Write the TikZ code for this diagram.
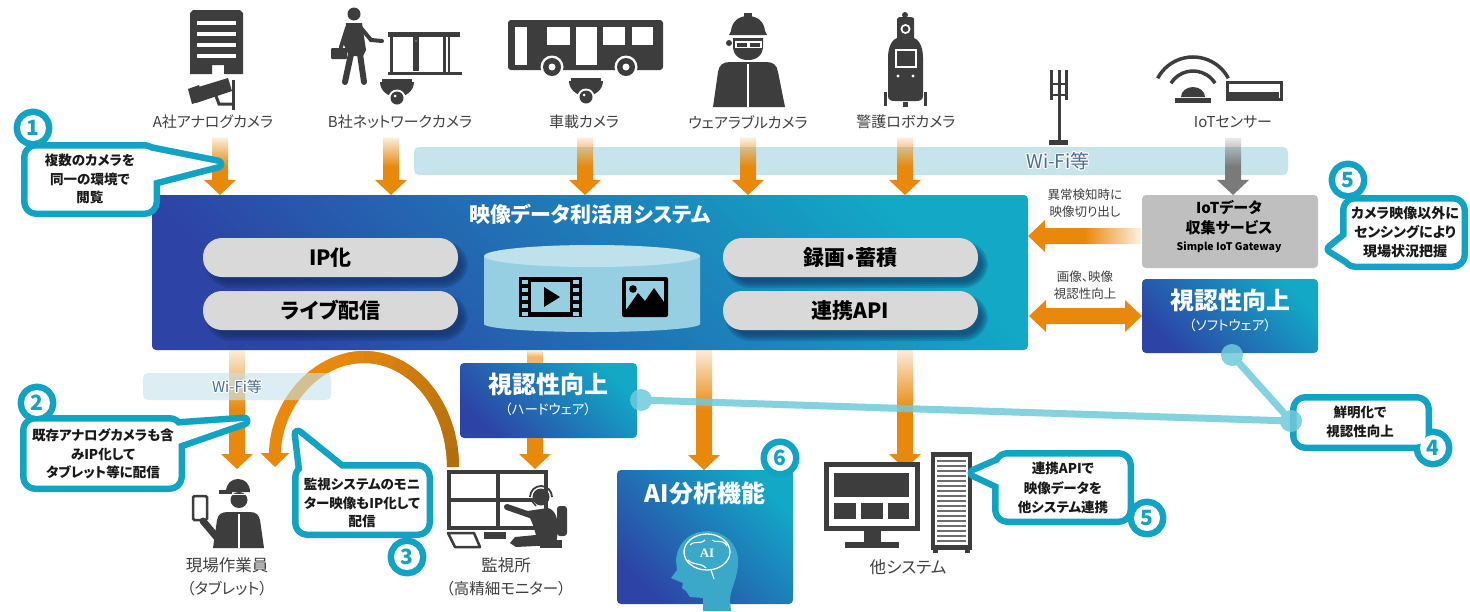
\documentclass[tikz,border=0pt]{standalone}
\usepackage{fontspec}
\setmainfont{Noto Sans CJK JP}[RawFeature=+palt]
\newfontfamily\aifont{Liberation Serif}
\usetikzlibrary{calc,arrows.meta,fadings}

\definecolor{tealc}{HTML}{10A3C4}
\definecolor{orgc}{HTML}{E8890C}
\definecolor{orgdk}{HTML}{B36E0C}
\definecolor{iconc}{HTML}{3D3D3D}
\definecolor{lblc}{HTML}{404040}
\definecolor{wific}{HTML}{C6E4EC}
\definecolor{wifitc}{HTML}{4A6F96}
\definecolor{pillc}{HTML}{D9D9D9}
\definecolor{blueA}{HTML}{12A8C6}
\definecolor{blueB}{HTML}{2D44A6}
\definecolor{cylc}{HTML}{95CFE1}
\definecolor{cyltopc}{HTML}{BEE1EB}
\definecolor{grayboxc}{HTML}{BFBFBF}
\definecolor{linkc}{HTML}{6FCADA}
\definecolor{grayarr}{HTML}{7A7A7A}
\definecolor{headc}{HTML}{3BA7C9}
\definecolor{shadowc}{HTML}{0E2A5A}

\tikzfading[name=fadetop, top color=transparent!85, bottom color=transparent!0, middle color=transparent!0]
\tikzfading[name=faderight, left color=transparent!0, right color=transparent!90, middle color=transparent!0]

\tikzset{
  toplabel/.style={text=lblc, font=\fontsize{15}{18}\selectfont},
  botlabel/.style={text=lblc, font=\fontsize{16.5}{23}\selectfont, align=center},
  smalltxt/.style={text=lblc, font=\fontsize{12.5}{17}\selectfont, align=center},
  pillbox/.style={fill=pillc, rounded corners=19pt, minimum width=255pt, minimum height=39pt,
    font=\bfseries\fontsize{21}{24}\selectfont},
  bluebox/.style={shade, top color=blueA, bottom color=blueB, shading angle=-45,
    rounded corners=4pt, anchor=north west},
  calltext/.style={font=\bfseries\fontsize{13.5}{18.5}\selectfont, align=center, text=black!90},
  badgenum/.style={text=tealc, font=\bfseries\fontsize{21}{21}\selectfont},
  bubbleline/.style={draw=tealc, line width=13pt, line join=round},
  wifibar/.style={fill=wific, rounded corners=5pt},
  wifitext/.style={text=wifitc, font=\fontsize{19}{19}\selectfont},
  orgdown/.style={fill=orgc, path fading=fadetop},
  orgleft/.style={fill=orgc, path fading=faderight},
  graydown/.style={fill=grayarr, path fading=fadetop},
  boxhead/.style={text=white, font=\bfseries\fontsize{24}{26}\selectfont},
  boxsub/.style={text=white, font=\fontsize{13.5}{16}\selectfont},
}

% vertical block arrow from #2 down to the height of #3
\newcommand\dnarrow[3][orgdown]{%
  \fill[#1] let \p1=(#2), \p2=(#3) in
    (\x1-8pt,\y1) -- (\x1+8pt,\y1) -- (\x1+8pt,\y2+15pt) -- (\x1+16pt,\y2+15pt)
    -- (\x1,\y2) -- (\x1-16pt,\y2+15pt) -- (\x1-8pt,\y2+15pt) -- cycle;}
% horizontal block arrow from #2 leftwards to #3
\newcommand\lfarrow[3][orgleft]{%
  \fill[#1] let \p1=(#2), \p2=(#3) in
    (\x1,\y1+8pt) -- (\x2+17pt,\y1+8pt) -- (\x2+17pt,\y1+16pt) -- (\x2,\y1)
    -- (\x2+17pt,\y1-16pt) -- (\x2+17pt,\y1-8pt) -- (\x1,\y1-8pt) -- cycle;}
% two-headed horizontal block arrow
\newcommand\dbarrow[2]{%
  \fill[orgc] let \p1=(#1), \p2=(#2) in
    (\x1,\y1) -- (\x1+17pt,\y1+16pt) -- (\x1+17pt,\y1+8pt) -- (\x2-17pt,\y1+8pt)
    -- (\x2-17pt,\y1+16pt) -- (\x2,\y1) -- (\x2-17pt,\y1-16pt) -- (\x2-17pt,\y1-8pt)
    -- (\x1+17pt,\y1-8pt) -- (\x1+17pt,\y1-16pt) -- cycle;}
% speech bubble: #1 body rectangle, #2 pointer, #3 badge centre
\newcommand\callout[3]{%
  \draw[bubbleline, rounded corners=9pt] #1;
  \draw[bubbleline] #2;
  \draw[bubbleline] (#3) circle[radius=13pt];
  \fill[white, rounded corners=9pt] #1;
  \fill[white] #2;
  \fill[white] (#3) circle[radius=13pt];}
% dome camera hanging below a point
\newcommand\dome[2]{%
  \fill[iconc] (#1-15,#2) rectangle (#1+15,#2+4);
  \fill[iconc] (#1-17,#2+3) arc[start angle=180, end angle=0, x radius=17, y radius=15] -- cycle;
  \fill[white] (#1,#2+19) circle[radius=8.5pt];
  \fill[iconc] (#1,#2+19) circle[radius=6.5pt];
  \fill[white] (#1-2,#2+17) circle[radius=1.5pt];}
% network label with a soft white halo
\newcommand\halotext[4]{%
  \foreach \dx/\dy in {-1.2/0,1.2/0,0/-1.2,0/1.2,-0.9/-0.9,0.9/0.9,-0.9/0.9,0.9/-0.9}
    \node[text=white, font=\fontsize{#3}{#3}\selectfont] at ($(#1)+(\dx,\dy)$) {#4};
  \node[wifitext, font=\fontsize{#3}{#3}\selectfont] (#2) at (#1) {#4};}
% soft shadow under a pill centred at (#1,#2)
\newcommand\pillshadow[2]{%
  \foreach \s in {0,2,4,6}
    \fill[shadowc, opacity=0.2, rounded corners=19pt+\s pt]
      (#1-127.5+6-\s+2,#2-19.5+7-\s+2) rectangle (#1+127.5+6+\s-2,#2+19.5+7+\s-2);}

\begin{document}
\begin{tikzpicture}[x=1pt, y=-1pt, every node/.style={inner sep=0pt, outer sep=0pt}]
\useasboundingbox (0,0) rectangle (1470,611);
\fill[white] (0,0) rectangle (1470,611);

% ---------- source devices ----------
% office building with analog camera
\fill[iconc] (190,13) -- (193,10) -- (240,10) -- (243,13) -- (243,74) -- (224,74)
  -- (224,65) -- (212,65) -- (212,74) -- (190,74) -- cycle;
\foreach \y in {21,32,43,54} \fill[white] (197,\y) rectangle (236,\y+3.5);
\fill[iconc] (192,89) -- (228,78) -- (232,91) -- (196,103) -- cycle;
\fill[iconc] (188,89) -- (199,85) -- (204,100) -- (192,104) -- cycle;
\draw[iconc, line width=3pt] (216,96) -- (219,104) -- (233,104);
\fill[iconc] (231.5,80) rectangle (235,110);
\node[toplabel] (lA) at (213,122) {A社アナログカメラ};

% person at a gate with dome camera
\fill[iconc] (354,14) circle[radius=6.5pt];
\fill[iconc] (346,23) -- (362,23) -- (366,50) -- (363,56) -- (349,56) -- (344,45) -- cycle;
\draw[iconc, line width=6pt, line cap=round] (351,54) -- (345,82);
\draw[iconc, line width=6pt, line cap=round] (360,54) -- (364,82);
\draw[iconc, line width=4pt, line cap=round] (361,28) -- (371,40) -- (382,41);
\draw[iconc, line width=4pt, line cap=round] (347,28) -- (341,47);
\fill[iconc, rounded corners=1pt] (331,48) rectangle (347,59);
\fill[iconc] (388,32) rectangle (460,37);
\fill[iconc] (390,37) rectangle (393,75);
\fill[iconc] (443,37) rectangle (446,75);
\fill[iconc] (448,37) rectangle (450,75);
\fill[iconc] (413,37) rectangle (419,71);
\fill[iconc] (388,72) rectangle (462,75);
\node[text=white, font=\fontsize{4}{4}\selectfont] at (416,42) {>>};
\dome{397}{79}
\node[toplabel] (lB) at (400,122) {B社ネットワークカメラ};

% bus with dome camera
\fill[iconc, rounded corners=3pt] (508,20) -- (663,20) -- (663,70) -- (508,70) -- cycle;
\fill[white] (515,27) rectangle (527,65);
\fill[white] (547,27) rectangle (570,45);
\fill[white] (576,27) rectangle (597,65);
\fill[white] (603,27) rectangle (625,45);
\fill[white] (632,27) rectangle (653,45);
\foreach \wx in {552,626} {
  \fill[white] (\wx,67) circle[radius=11.5pt];
  \fill[iconc] (\wx,67) circle[radius=9pt];
  \fill[white] (\wx,67) circle[radius=3.5pt];}
\dome{586}{78}
\node[toplabel] (lC) at (584,122) {車載カメラ};

% worker with helmet and smart glasses
\fill[iconc] (744,13) rectangle (752,18);
\fill[iconc] (729,35) -- (731,31) .. controls (732,21) and (739,16) .. (748,16)
  .. controls (757,16) and (764,21) .. (765,31) -- (767,35) -- cycle;
\fill[iconc] (733,38) -- (763,38) -- (763,46) .. controls (763,55) and (757,60) .. (748,60)
  .. controls (739,60) and (733,55) .. (733,46) -- cycle;
\fill[white] (735,41) rectangle (762,48);
\fill[iconc] (737,42.5) rectangle (747,46.5);
\fill[iconc] (750,42.5) rectangle (760,46.5);
\fill[iconc] (729,43) circle[radius=3pt];
\fill[iconc] (713,107) -- (718,72) .. controls (719,65) and (723,62) .. (730,62) -- (766,62)
  .. controls (773,62) and (777,65) .. (778,72) -- (785,107) -- cycle;
\draw[white, line width=1.8pt] (748,64) -- (748,107);
\node[toplabel] (lD) at (748,122) {ウェアラブルカメラ};

% security robot
\fill[iconc] (905,15) circle[radius=3pt];
\fill[iconc] (897,19) .. controls (897,17) and (899,17) .. (905,17) .. controls (911,17) and (914,17) .. (914,19)
  -- (914,38) .. controls (921,41) and (923,50) .. (923,58) -- (923,96)
  .. controls (923,100) and (920,101) .. (916,101) -- (895,101)
  .. controls (891,101) and (888,100) .. (888,96) -- (888,58)
  .. controls (888,50) and (890,41) .. (897,38) -- cycle;
\fill[white] (905.5,29) circle[radius=5pt];
\fill[iconc] (905.5,29) circle[radius=3pt];
\fill[white] (895,49) rectangle (917,68);
\fill[iconc] (897,51) rectangle (915,66);
\fill[white] (898,76) circle[radius=1.6pt];
\fill[white] (913,76) circle[radius=1.6pt];
\fill[iconc] (884,92) rectangle (887,106);
\fill[iconc] (924,92) rectangle (927,106);
\fill[iconc] (903,102) rectangle (908,107);
\node[toplabel] (lE) at (906,122) {警護ロボカメラ};

% radio mast
\fill[iconc] (1050,70) rectangle (1053,100);
\fill[iconc] (1057.5,70) rectangle (1060.5,100);
\fill[iconc] (1065,70) rectangle (1068,100);
\fill[iconc] (1050,83) rectangle (1068,85);
\fill[iconc] (1050,94) rectangle (1068,96);
\fill[iconc] (1057.5,100) rectangle (1060.5,141);
\fill[iconc] (1049,140) rectangle (1068,145);

% IoT sensor
\draw[iconc, line width=3.5pt] (1193,97) ++(-152:40) arc[start angle=-152, end angle=-28, radius=40];
\draw[iconc, line width=3.5pt] (1193,97) ++(-148:26) arc[start angle=-148, end angle=-32, radius=26];
\fill[iconc] (1205,97) arc[start angle=0, end angle=-180, x radius=12, y radius=10] -- cycle;
\fill[iconc] (1175,98) rectangle (1211,103);
\draw[iconc, line width=3pt] (1227,82) rectangle (1281,99);
\fill[iconc] (1229,92) rectangle (1279,100);
\node[toplabel] (lF) at (1233,122) {IoTセンサー};

% ---------- network band ----------
\fill[wifibar] (414,147) rectangle (1288,175);
\halotext{1058,161}{wifi1}{19}{Wi-Fi等}

% ---------- central platform ----------
\node[bluebox, minimum width=876pt, minimum height=155pt] (sys) at (152,195) {};
\node[text=white, font=\bfseries\fontsize{21}{21}\selectfont] (systitle) at (590,214) {映像データ利活用システム};

\coordinate (tA) at (220,138);
\coordinate (tB) at (391,138);
\coordinate (tC) at (585,138);
\coordinate (tD) at (748,138);
\coordinate (tE) at (905,138);
\coordinate (tF) at (1233,138);
\foreach \c in {tA,tB,tC,tD,tE} \dnarrow{\c}{\c |- sys.north};

\pillshadow{330.5}{257.5}
\pillshadow{330.5}{310.5}
\pillshadow{850.5}{257.5}
\pillshadow{850.5}{310.5}
\node[pillbox] (ip) at (330.5,257.5) {IP化};
\node[pillbox] (live) at (330.5,310.5) {ライブ配信};
\node[pillbox] (rec) at (850.5,257.5) {録画・蓄積};
\node[pillbox] (api) at (850.5,310.5) {連携API};

% storage cylinder
\fill[cylc] (484,256) -- (484,324) arc[start angle=180, end angle=0, x radius=108, y radius=8] -- (700,256) -- cycle;
\fill[cyltopc] (592,256) ellipse[x radius=108, y radius=11];
% video icon
\fill[black] (519,277) rectangle (582,317);
\fill[cylc] (531,282) rectangle (570,312);
\foreach \hy in {280,288,296,304,312} {
  \fill[cylc] (522,\hy) rectangle (528,\hy+3.5);
  \fill[cylc] (573,\hy) rectangle (579,\hy+3.5);}
\fill[black] (544,287) -- (560,297) -- (544,307) -- cycle;
% picture icon
\fill[black, rounded corners=2pt] (622,277) rectangle (668,317);
\fill[cylc] (626,281) rectangle (664,309);
\fill[black] (626,310) -- (638,293) -- (645,301) -- (654,288) -- (664,302) -- (664,313) -- (626,313) -- cycle;
\fill[black] (633,289) circle[radius=3.8pt];

% ---------- IoT gateway and software enhancement ----------
\node[fill=grayboxc, rounded corners=4pt, anchor=north west, minimum width=176pt, minimum height=73pt] (iot) at (1142,195) {};
\node[font=\bfseries\fontsize{15}{20}\selectfont, align=center] (iott) at (1229,218) {IoTデータ\\収集サービス};
\node[font=\bfseries\fontsize{10.5}{12}\selectfont] (iots) at (1229,247) {Simple IoT Gateway};
\dnarrow[graydown]{tF}{tF |- iot.north}

\node[bluebox, minimum width=176pt, minimum height=74pt] (sw) at (1142,279) {};
\node[boxhead] (swt) at (1230,300) {視認性向上};
\node[boxsub] (sws) at (1230,325) {（ソフトウェア）};

\coordinate (la) at (1141,236);
\lfarrow{la}{sys.east |- la}
\coordinate (da) at (1029,316);
\dbarrow{da}{sw.west |- da}
\node[smalltxt] (t1) at (1085,203.5) {異常検知時に\\映像切り出し};
\node[smalltxt] (t2) at (1085,285) {画像、映像\\視認性向上};

% ---------- outputs ----------
\coordinate (bW) at (237,350);
\coordinate (wkTop) at (237,469);
\dnarrow{bW}{wkTop}

% redistribution loop from the monitoring room
\coordinate (arcR) at (453,467);
\draw[orgc, line width=12pt, -{Triangle[width=28pt,length=14pt]}] (arcR) arc[start angle=0, end angle=-180, x radius=89, y radius=110];
\foreach \i in {0,...,9} {
  \pgfmathsetmacro\mx{100-10*\i}
  \draw[orgdk!\mx!orgc, line width=12pt] ({364+89*cos(-10*\i)},{467+110*sin(-10*\i)})
    arc[start angle=-10*\i, end angle=-10*\i-10.5, x radius=89, y radius=110];}

\fill[wifibar, opacity=0.6] (143,373) rectangle (331,400);
\halotext{237,387}{wifi2}{15}{Wi-Fi等}

% hardware enhancement
\fill[orgc, path fading=fadetop, opacity=0.6] (527,350) rectangle (543,363);
\node[bluebox, minimum width=177pt, minimum height=75pt] (hw) at (460,363) {};
\node[boxhead] (hwt) at (548,384) {視認性向上};
\node[boxsub] (hws) at (548,409) {（ハードウェア）};
\coordinate (hwS) at (535,438);
\coordinate (monTop) at (535,469);
\dnarrow[fill=orgc]{hwS}{monTop}

% AI analysis
\node[bluebox, minimum width=176pt, minimum height=134pt] (ai) at (617,470) {};
\node[boxhead] (ait) at (705,493) {AI分析機能};
\coordinate (bA) at (704,350);
\dnarrow{bA}{bA |- ai.north}
\fill[headc] (703,611) -- (703,598) -- (690,597) -- (686,591) -- (682,588) -- (683,583) -- (671,578)
  -- (677,570) -- (676,560) .. controls (678,539) and (694,531) .. (708,531)
  .. controls (728,532) and (740,548) .. (738,565) .. controls (737,580) and (730,590) .. (730,600)
  -- (731,611) -- cycle;
\draw[white, line width=1.3pt] (707,552) ellipse[x radius=23, y radius=18];
\draw[white, line width=1.1pt] (690,545) .. controls (695,540) and (700,545) .. (705,540);
\draw[white, line width=1.1pt] (712,540) .. controls (718,544) and (722,538) .. (727,546);
\draw[white, line width=1.1pt] (688,560) .. controls (694,566) and (700,562) .. (706,568);
\draw[white, line width=1.1pt] (711,570) -- (714,579);
\node[text=white, font=\aifont\bfseries\fontsize{13}{13}\selectfont] (ailbl) at (707,553) {AI};

% other systems
\coordinate (bO) at (905,350);
\coordinate (osTop) at (905,469);
\dnarrow{bO}{osTop}
\fill[iconc] (824,462) rectangle (920,531);
\fill[white] (829,467) rectangle (915,526);
\fill[iconc] (834,473) rectangle (909,497);
\fill[iconc] (834,503) rectangle (856,519);
\fill[iconc] (861,503) rectangle (883,519);
\fill[iconc] (888,503) rectangle (909,519);
\fill[iconc] (864,530) rectangle (881,543);
\fill[iconc] (845,542) rectangle (899,548);
\fill[iconc] (931,452) rectangle (972,550);
\fill[white] (935,457) rectangle (968,545);
\foreach \y in {460,465,...,540} \fill[iconc!75] (937,\y) rectangle (966,\y+2);
\fill[iconc] (933,549) rectangle (938,553);
\fill[iconc] (965,549) rectangle (970,553);
\node[botlabel] (osl) at (908,567) {他システム};

% field worker with tablet
\draw[iconc, line width=2.5pt, rounded corners=1.5pt] (193,496) rectangle (207,520);
\draw[iconc, line width=7pt, line cap=round] (203,521) -- (219,540);
\fill[iconc] (213,548) -- (217,520) .. controls (218,514) and (222,512) .. (228,512) -- (250,512)
  .. controls (256,512) and (259,515) .. (260,520) -- (264,548) -- cycle;
\draw[white, line width=1.5pt] (239,514) -- (239,548);
\fill[iconc] (239,500) ellipse[x radius=8.5, y radius=8];
\fill[iconc] (226,492) .. controls (226,483) and (232,479) .. (238,479)
  .. controls (245,479) and (250,484) .. (250,492) -- cycle;
\fill[iconc] (219,490) rectangle (232,494);
\draw[white, line width=1.5pt] (222,494.5) -- (252,494.5);
\node[botlabel] (wkl) at (227,576.5) {現場作業員\\\fontsize{15.5}{15.5}\selectfont（タブレット）};

% monitoring room
\draw[iconc, line width=4.5pt] (449,472) rectangle (546,528);
\draw[iconc, line width=4pt] (497.5,472) -- (497.5,528);
\draw[iconc, line width=4pt] (449,500) -- (546,500);
\draw[iconc, line width=2.5pt, line join=round] (448,533) -- (474,533) -- (480,547) -- (455,547) -- cycle;
\fill[iconc] (484,532) rectangle (506,539);
\fill[iconc] (541,497) circle[radius=8.5pt];
\draw[iconc, line width=1.8pt] (530,497) arc[start angle=180, end angle=360, radius=11];
\draw[iconc, line width=1.5pt] (531,500) -- (536,506);
\fill[iconc] (527,511) -- (548,508) .. controls (556,510) and (558,520) .. (558,530)
  -- (556,545) -- (516,547) -- (510,543) -- (515,537) -- (536,535) -- (533,525) -- cycle;
\draw[iconc, line width=6pt, line cap=round] (530,515) -- (507,507);
\fill[iconc, rounded corners=3pt] (557,506) rectangle (567,536);
\fill[iconc] (540,540) rectangle (562,548);
\node[botlabel] (mnl) at (506,576.5) {監視所\\\fontsize{15.5}{15.5}\selectfont（高精細モニター）};

% ---------- callouts ----------
\callout{(27.5,148.5) rectangle (153.5,210.5)}{(148,150) -- (218,164) -- (148,182) -- cycle}{33,128}
\node[calltext] (c1) at (90,179) {複数のカメラを\\同一の環境で\\閲覧};
\node[badgenum] at (33,128) {1};

\callout{(26.5,421.5) rectangle (178.5,485.5)}{(172,426) -- (244,421) -- (172,446) -- cycle}{37,403}
\node[calltext] (c2) at (103,454) {既存アナログカメラも含\\みIP化して\\タブレット等に配信};
\node[badgenum] at (37,403) {2};

\callout{(298.5,468.5) rectangle (426.5,531.5)}{(303,476) -- (298,434) -- (350,476) -- cycle}{407,557}
\node[calltext] (c3) at (362,503) {監視システムのモニ\\ター映像もIP化して\\配信};
\node[badgenum] at (407,557) {3};

\callout{(1296.5,400.5) rectangle (1425.5,444.5)}{}{1433,448}
\node[calltext] (c4) at (1360,422) {鮮明化で\\視認性向上};
\node[badgenum] at (1433,448) {4};

\callout{(998.5,456.5) rectangle (1127.5,518.5)}{(1004,460) -- (974,473) -- (1004,487) -- cycle}{1147,518}
\node[calltext, font=\bfseries\fontsize{13.5}{19.5}\selectfont] (c5b) at (1063,488) {連携APIで\\映像データを\\他システム連携};
\node[badgenum] at (1147,518) {5};

\callout{(1346.5,201.5) rectangle (1461.5,263.5)}{(1352,232) -- (1331,249) -- (1352,262) -- cycle}{1348,180}
\node[calltext, font=\bfseries\fontsize{14}{19}\selectfont] (c5a) at (1405,232) {カメラ映像以外に\\センシングにより\\現場状況把握};
\node[badgenum] at (1348,180) {5};

\draw[tealc, line width=6.5pt, fill=white] (780,458) circle[radius=16.25pt];
\node[badgenum] at (780,458) {6};

% ---------- visibility links ----------
\coordinate (d1) at (641,400);
\coordinate (d2) at (1291,421);
\coordinate (d3) at (1232,355);
\begin{scope}[transparency group, opacity=0.85]
\draw[linkc, line width=7pt] (d1) -- (d2) -- (d3);
\fill[linkc] (d1) circle[radius=11pt];
\fill[linkc] (d2) circle[radius=11pt];
\fill[linkc] (d3) circle[radius=11pt];
\end{scope}
\end{tikzpicture}
\end{document}
